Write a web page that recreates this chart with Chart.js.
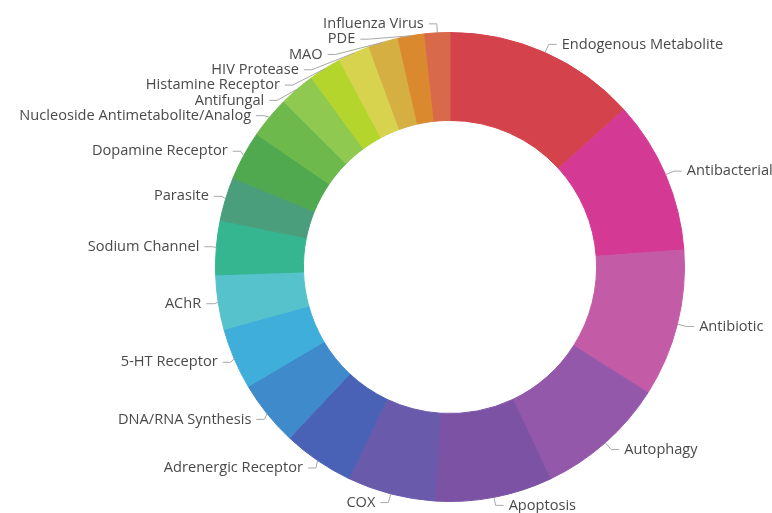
<!DOCTYPE html>
<html>
<head>
<meta charset="utf-8">
<title>Target categories</title>
<script src="https://cdn.jsdelivr.net/npm/chart.js@4.4.0/dist/chart.umd.min.js"></script>
<style>
	body{margin:0;background:#fff;}
	canvas{display:block;}
</style>
</head>
<body>
<canvas id="donutChart" width="772" height="513"></canvas>
<script>
var categories = ["Endogenous Metabolite","Antibacterial","Antibiotic","Autophagy","Apoptosis","COX",
	"Adrenergic Receptor","DNA/RNA Synthesis","5-HT Receptor","AChR","Sodium Channel","Parasite",
	"Dopamine Receptor","Nucleoside Antimetabolite/Analog","Antifungal","Histamine Receptor",
	"HIV Protease","MAO","PDE","Influenza Virus"];
var counts = [47.8,38.0,36.6,32.2,29.1,21.8,17.6,16.2,15.2,13.5,13.4,10.8,12.2,10.4,8.9,8.1,7.9,7.4,6.6,6.2];
var sliceColors = ["#d4434b","#d43a94","#c45ba6","#9458aa","#7b52a4","#6a5aac","#4a62b6","#3f8acb",
	"#3faedb","#55c2cc","#35b590","#4a9e7c","#50a84f","#6db94c","#8fc94f","#b3d52c","#d7d34e",
	"#d6af43","#da892f","#d8694b"];

// pie labels outside the ring, pushed apart like echarts does it
var outerLabels = {
	id:'outerLabels',
	afterDatasetsDraw:function(chart){
		var ctx = chart.ctx;
		var meta = chart.getDatasetMeta(0);
		var len1 = 9, len2 = 8, gap = 5, h = 15.3;
		var items = [];
		var cx = 0, cy = 0, rA = 0;
		meta.data.forEach(function(arc, i){
			var p = arc.getProps(['x','y','startAngle','endAngle','outerRadius']);
			var mid = (p.startAngle + p.endAngle) / 2;
			var nx = Math.cos(mid), ny = Math.sin(mid);
			var dir = nx < 0 ? -1 : 1;
			var x1 = p.x + nx * p.outerRadius, y1 = p.y + ny * p.outerRadius;
			var x2 = x1 + nx * len1, y2 = y1 + ny * len1;
			cx = p.x; cy = p.y; rA = p.outerRadius + len1;
			items.push({text:chart.data.labels[i], dir:dir, x1:x1, y1:y1, lx:x2 + dir * (len2 + gap), ly:y2});
		});

		function shiftY(list){
			list.sort(function(a, b){ return a.ly - b.ly; });
			var last = 0, adjusted = false;
			list.forEach(function(it){
				var top = it.ly - h / 2;
				if(top < last){
					it.ly += last - top;
					adjusted = true;
				}
				last = it.ly + h / 2;
			});
			var limit = chart.height;
			for(var i = list.length - 1; i >= 0; i--){
				var bottom = list[i].ly + h / 2;
				if(bottom > limit){
					list[i].ly -= bottom - limit;
				}
				limit = list[i].ly - h / 2;
			}
			return adjusted;
		}

		function recalcX(list){
			var semis = [{list:[], maxY:0, rB:rA}, {list:[], maxY:0, rB:rA}];
			list.forEach(function(it){
				var semi = it.ly > cy ? semis[1] : semis[0];
				var dy = Math.abs(it.ly - cy);
				if(dy >= semi.maxY){
					var dx = it.lx - cx - len2 * it.dir;
					semi.rB = Math.abs(dx) < rA ? Math.sqrt(dy * dy / (1 - dx * dx / (rA * rA))) : rA;
					semi.maxY = dy;
				}
				semi.list.push(it);
			});
			semis.forEach(function(s){
				s.list.forEach(function(it){
					var dy = Math.abs(it.ly - cy);
					var dx = Math.sqrt(Math.max(0, 1 - dy * dy / (s.rB * s.rB))) * rA;
					it.lx = cx + (dx + len2) * it.dir;
				});
			});
		}

		[-1, 1].forEach(function(d){
			var side = items.filter(function(it){ return it.dir === d; });
			if(side.length > 1 && shiftY(side)){
				recalcX(side);
			}
		});

		ctx.save();
		ctx.lineWidth = 1;
		ctx.strokeStyle = "#a8a8a8";
		ctx.fillStyle = "#4a4a4a";
		ctx.font = '14.6px "Open Sans"';
		ctx.textBaseline = 'middle';
		items.forEach(function(it){
			var x3 = it.lx - it.dir * gap;
			var x2 = x3 - it.dir * len2;
			ctx.beginPath();
			ctx.moveTo(it.x1, it.y1);
			ctx.lineTo(x2, it.ly);
			ctx.lineTo(x3, it.ly);
			ctx.stroke();
			ctx.textAlign = it.dir < 0 ? 'right' : 'left';
			ctx.fillText(it.text, it.lx, it.ly);
		});
		ctx.restore();
	}
};

var ctx = document.getElementById("donutChart");
var myChart = new Chart(ctx, {
	type:'doughnut',
	data:{
		labels:categories,
		datasets:[{
			data:counts,
			backgroundColor:sliceColors,
			borderColor:sliceColors,
			borderWidth:1,
			hoverOffset:0
		}]
	},
	options:{
		responsive:false,
		animation:false,
		cutout:'62.5%',
		layout:{padding:{top:32, bottom:11, left:128, right:0}},
		plugins:{
			legend:{display:false},
			tooltip:{enabled:false}
		}
	},
	plugins:[outerLabels]
});
</script>
</body>
</html>
